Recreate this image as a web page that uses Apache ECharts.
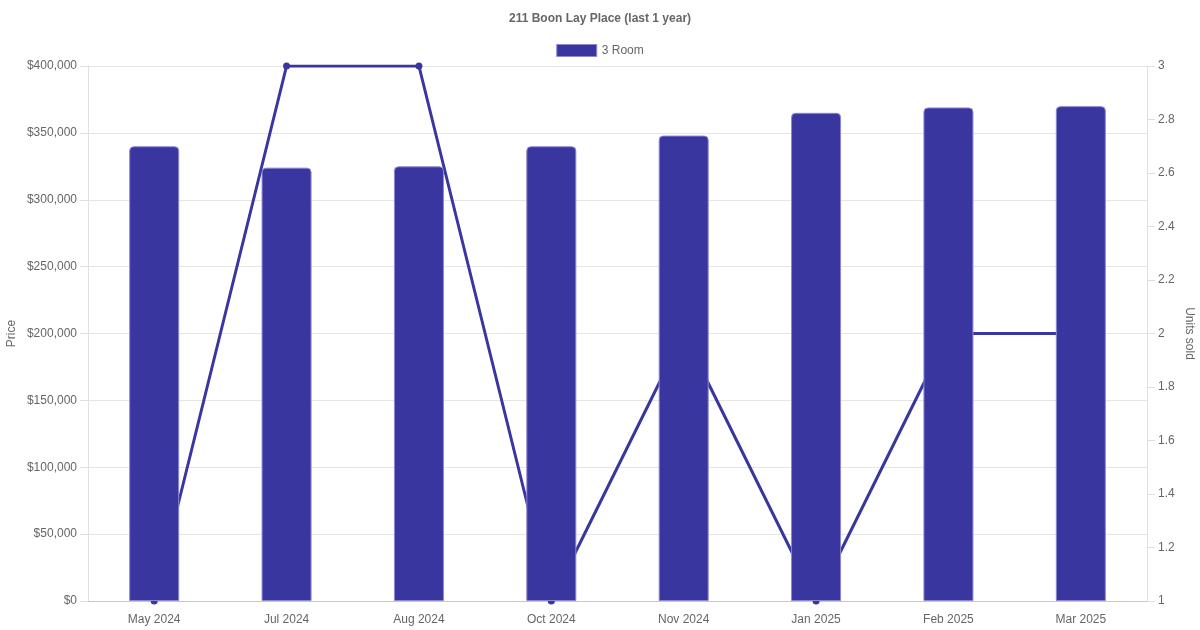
<!DOCTYPE html>
<html>
<head>
<meta charset="utf-8">
<script src="https://cdn.jsdelivr.net/npm/echarts@6/dist/echarts.min.js"></script>
<style>
html,body{margin:0;padding:0;background:#fff;}
#c{width:1200px;height:630px;}
</style>
</head>
<body>
<div id="c"></div>
<script>
const categories = ['May 2024','Jul 2024','Aug 2024','Oct 2024','Nov 2024','Jan 2025','Feb 2025','Mar 2025'];
const prices = [340000, 324000, 325000, 340000, 348000, 365000, 369000, 370000];
const unitsSold = [1, 3, 3, 1, 2, 1, 2, 2];
const barName = '3 Room';
const lineName = 'Units sold';

const color = '#3a36a0';
const font = 'Liberation Sans, Arial, Helvetica, sans-serif';
const chart = echarts.init(document.getElementById('c'));
chart.setOption({
  animation: false,
  textStyle: {fontFamily: font},
  title: {
    text: '211 Boon Lay Place (last 1 year)',
    left: 'center', top: 8,
    textStyle: {fontSize: 12, fontWeight: 'bold', color: '#666', fontFamily: font}
  },
  legend: {
    data: [{name: barName, icon: 'rect', itemStyle: {borderWidth: 1, borderColor: '#8c88d2'}}],
    top: 39, left: 'center',
    itemWidth: 40, itemHeight: 12, itemGap: 10,
    textStyle: {fontSize: 12, color: '#666', fontFamily: font}
  },
  grid: {left: 88, right: 53, top: 66, bottom: 29, containLabel: false, outerBoundsMode: 'none'},
  xAxis: {
    type: 'category',
    data: categories,
    boundaryGap: true,
    axisLine: {show: true, lineStyle: {color: '#c8c8c8'}},
    axisTick: {show: false},
    axisLabel: {color: '#666', fontSize: 12, margin: 13, fontFamily: font},
    splitLine: {show: false}
  },
  yAxis: [{
    type: 'value',
    min: 0, max: 400000, interval: 50000,
    name: 'Price', nameLocation: 'middle', nameGap: 70, nameMoveOverlap: false,
    nameTextStyle: {color: '#666', fontSize: 12, fontFamily: font},
    axisLine: {show: true, lineStyle: {color: '#e0e0e0'}},
    axisTick: {show: true, length: 8, lineStyle: {color: '#e0e0e0'}},
    axisLabel: {color: '#666', fontSize: 12, margin: 11, fontFamily: font,
      formatter: v => '$' + v.toLocaleString('en-US')},
    splitLine: {show: true, lineStyle: {color: '#e5e5e5'}}
  }, {
    type: 'value',
    min: 1, max: 3, interval: 0.2,
    name: 'Units sold', nameLocation: 'middle', nameGap: 36, nameRotate: -90, nameMoveOverlap: false,
    nameTextStyle: {color: '#666', fontSize: 12, fontFamily: font},
    axisLine: {show: true, lineStyle: {color: '#e0e0e0'}},
    axisTick: {show: true, length: 8, lineStyle: {color: '#e0e0e0'}},
    axisLabel: {color: '#666', fontSize: 12, margin: 11, fontFamily: font,
      formatter: v => String(Math.round(v * 10) / 10)},
    splitLine: {show: false}
  }],
  series: [{
    name: barName,
    type: 'bar',
    data: prices,
    yAxisIndex: 0,
    barWidth: 50,
    z: 3,
    itemStyle: {color: color, borderColor: '#8c88d2', borderWidth: 1, borderRadius: [4,4,0,0]}
  }, {
    name: lineName,
    type: 'line',
    data: unitsSold,
    yAxisIndex: 1,
    z: 1,
    symbol: 'circle', symbolSize: 7,
    lineStyle: {color: color, width: 3},
    itemStyle: {color: color}
  }]
});
</script>
</body>
</html>
